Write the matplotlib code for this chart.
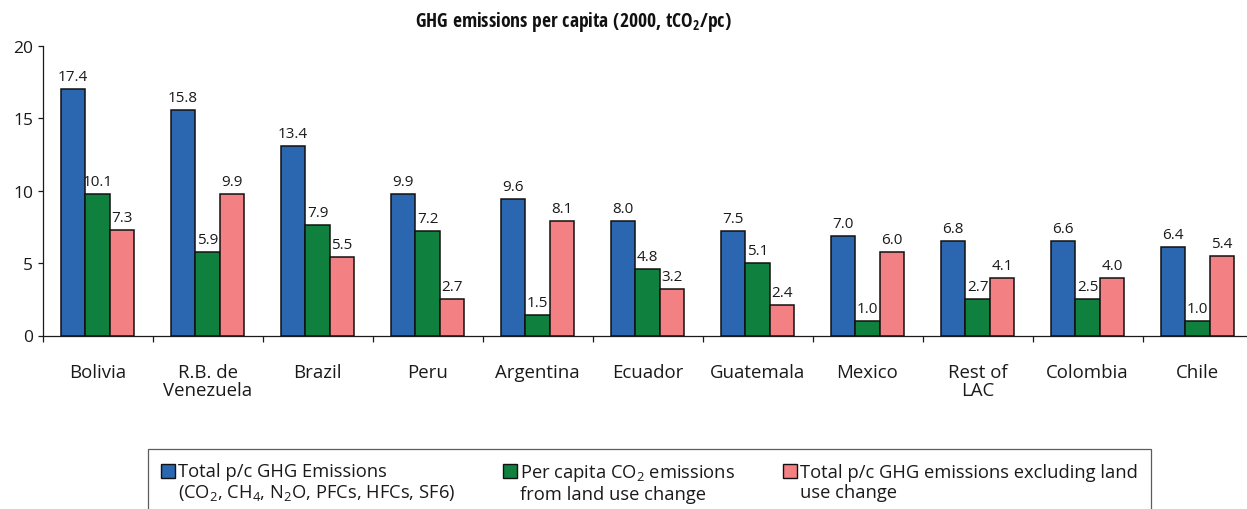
import matplotlib
matplotlib.use("Agg")
import matplotlib.pyplot as plt
import numpy as np
from matplotlib import font_manager as fm
from matplotlib.font_manager import FontProperties
from matplotlib.patches import Rectangle
from matplotlib.legend_handler import HandlerBase

# ---------------- data ----------------
categories = ['Bolivia', 'R.B. de\nVenezuela', 'Brazil', 'Peru', 'Argentina', 'Ecuador',
              'Guatemala', 'Mexico', 'Rest of\nLAC', 'Colombia', 'Chile']
total_ghg = [17.0, 15.6, 13.1, 9.8, 9.4, 7.9, 7.2, 6.9, 6.5, 6.5, 6.1]
luc_co2 = [9.8, 5.8, 7.6, 7.2, 1.4, 4.6, 5.0, 1.0, 2.5, 2.5, 1.0]
excl_luc = [7.3, 9.8, 5.4, 2.5, 7.9, 3.2, 2.1, 5.8, 4.0, 4.0, 5.5]
total_lbl = ['17.4', '15.8', '13.4', '9.9', '9.6', '8.0', '7.5', '7.0', '6.8', '6.6', '6.4']
luc_lbl = ['10.1', '5.9', '7.9', '7.2', '1.5', '4.8', '5.1', '1.0', '2.7', '2.5', '1.0']
excl_lbl = ['7.3', '9.9', '5.5', '2.7', '8.1', '3.2', '2.4', '6.0', '4.1', '4.0', '5.4']
series_names = ['Total p/c GHG Emissions\n(CO$_2$, CH$_4$, N$_2$O, PFCs, HFCs, SF6)',
                'Per capita CO$_2$ emissions\nfrom land use change',
                'Total p/c GHG emissions excluding land\nuse change']
title = 'GHG emissions per capita (2000, tCO$_2$/pc)'
yticks = [0, 5, 10, 15, 20]

colors = ['#2b66b1', '#10803f', '#f38082']
text_color = '#1a1a1a'

# ---------------- fonts ----------------
names = {f.name for f in fm.fontManager.ttflist}
def pick(cands, default):
    for c in cands:
        if c in names:
            return c
    return default

def wnum(w):
    if isinstance(w, (int, float)):
        return w
    return fm.weight_dict.get(w, 400)

main_font = pick(['Open Sans', 'Noto Sans', 'DejaVu Sans'], 'DejaVu Sans')
narrow_font = pick(['Open Sans Condensed', 'Noto Sans Condensed', 'Liberation Sans Narrow',
                    'Roboto Condensed', 'DejaVu Sans Condensed'], None)

title_fp = FontProperties(family=[main_font], weight='bold', size=11)
legend_fp = FontProperties(family=[main_font], size=13.2)
if narrow_font is not None:
    entries = [f for f in fm.fontManager.ttflist
               if f.name == narrow_font and f.style == 'normal']
    if entries:
        bold_e = min(entries, key=lambda f: abs(wnum(f.weight) - 700))
        title_fp = FontProperties(fname=bold_e.fname, size=14)

plt.rcParams['font.family'] = [main_font, 'DejaVu Sans']
plt.rcParams['mathtext.default'] = 'regular'
plt.rcParams['text.color'] = text_color
plt.rcParams['axes.edgecolor'] = text_color
plt.rcParams['xtick.color'] = text_color
plt.rcParams['ytick.color'] = text_color

W, H = 1247, 510
fig = plt.figure(figsize=(W / 100, H / 100), dpi=100)

# axes placement in pixel units
ax_left, ax_right = 42.5, 1252.5
ax_top, ax_bottom = 47.0, 336.5
ax = fig.add_axes([ax_left / W, 1 - ax_bottom / H, (ax_right - ax_left) / W, (ax_bottom - ax_top) / H])

x = np.arange(len(categories))
bw = 0.222
series = [total_ghg, luc_co2, excl_luc]
labels = [total_lbl, luc_lbl, excl_lbl]
containers = []
for i, (vals, lbls) in enumerate(zip(series, labels)):
    xs = x + (i - 1) * bw
    bc = ax.bar(xs, vals, width=bw, color=colors[i], edgecolor='#111111', linewidth=1.1,
                label=series_names[i], zorder=3)
    containers.append(bc)
    for xi, v, t in zip(xs, vals, lbls):
        ax.annotate(t, (xi, v), xytext=(0, 6.5), textcoords='offset points',
                    ha='center', va='baseline', fontsize=11, color=text_color)

ax.set_xlim(-0.5, len(categories) - 0.5)
ax.set_ylim(0, 20)
ax.set_yticks(yticks)
ax.tick_params(axis='y', direction='out', length=3.6, width=0.9, pad=3, labelsize=12.5)

# category boundaries as major ticks, names as minor ticks
ax.set_xticks(np.arange(len(categories) + 1) - 0.5)
ax.set_xticklabels([])
ax.set_xticks(x, minor=True)
ax.set_xticklabels(categories, minor=True, fontsize=13.4, linespacing=1.05)
ax.tick_params(axis='x', which='major', direction='out', length=4.3, width=0.9)
ax.tick_params(axis='x', which='minor', length=0, pad=19.5)

for s in ['top', 'right']:
    ax.spines[s].set_visible(False)
for s in ['left', 'bottom']:
    ax.spines[s].set_linewidth(0.9)

# title
fig.text(573.5 / W, 1 - 21.5 / H, title, ha='center', va='center',
         fontproperties=title_fp, color='#111111')

# legend with handle aligned to first line of its label
class TopHandler(HandlerBase):
    def create_artists(self, legend, orig_handle, xdescent, ydescent, width, height,
                       fontsize, trans):
        fc = orig_handle.patches[0].get_facecolor()
        r = Rectangle((-xdescent, -ydescent + 0.66 * fontsize), width, height,
                      facecolor=fc, edgecolor='#111111', linewidth=1.0, transform=trans)
        return [r]

leg = fig.legend(containers, series_names, loc='upper left',
                 bbox_to_anchor=(148 / W, 0, 1003 / W, 1 - 450 / H), borderaxespad=0,
                 mode='expand', ncol=3, frameon=True, fancybox=False, edgecolor='#333333',
                 handler_map={c: TopHandler() for c in containers},
                 prop=legend_fp,
                 handlelength=0.78, handleheight=0.78, handletextpad=0.18,
                 columnspacing=2.4, borderpad=0.7)
leg.get_frame().set_linewidth(0.9)
for t in leg.get_texts():
    t.set_color(text_color)
    t.set_linespacing(1.12)

fig.savefig('out.png', dpi=100)
